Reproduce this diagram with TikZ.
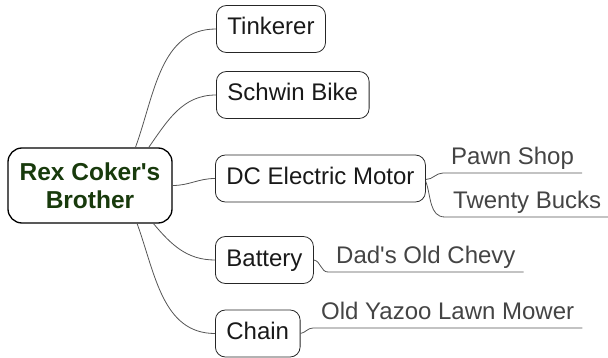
\documentclass[tikz,border=0pt]{standalone}
\usepackage{fontspec}
\setmainfont{Liberation Sans}
\usepackage{tikz}
\usetikzlibrary{positioning}
\definecolor{rootgreen}{RGB}{24,58,12}
\definecolor{linegray}{RGB}{85,85,85}
\definecolor{leafgray}{RGB}{68,68,68}

\begin{document}
\begin{tikzpicture}[x=1pt,y=-1pt,font=\fontsize{24}{27}\selectfont,
		rootnode/.style={rectangle,draw=black,line width=1.3pt,rounded corners=14pt,minimum width=164pt,minimum height=75pt,align=center,text=rootgreen,font=\fontsize{24.5}{28}\selectfont\bfseries},
		topicnode/.style={rectangle,draw=black!85,line width=0.8pt,rounded corners=10pt,inner xsep=11pt,minimum height=47pt,text height=17pt,text depth=5pt,anchor=west,text=black!90},
		leafnode/.style={rectangle,inner xsep=8pt,inner ysep=3pt,text height=17pt,text depth=5.5pt,anchor=south west,text=leafgray},
		branch/.style={draw=linegray,line width=0.8pt}]
		\useasboundingbox (0,0) rectangle (608,358);
		\node [rootnode] (r) at (90, 185.5) {Rex Coker\textquotesingle s\\Brother};
		\node [topicnode] (t) at (216, 29) {Tinkerer};
		\node [topicnode] (s) at (216, 95) {Schwin Bike};
		\node [topicnode] (m) at (215, 178.5) {DC Electric Motor};
		\node [topicnode] (b) at (215, 260) {Battery};
		\node [topicnode] (c) at (215, 333.5) {Chain};
		\node [leafnode] (p) at (443, 173) {Pawn Shop};
		\node [leafnode] (w) at (445, 217) {Twenty Bucks};
		\node [leafnode] (d) at (328, 272) {Dad\textquotesingle s Old Chevy};
		\node [leafnode] (y) at (313, 328) {Old Yazoo Lawn Mower};
		\draw[branch] (r.40) to[out=70,in=180] (t.west);
		\draw[branch] (r.33) to[out=55,in=180] (s.west);
		\draw[branch] (r.east) to[out=0,in=180] (m.west);
		\draw[branch] (r.-31) to[out=-50,in=180] (b.west);
		\draw[branch] (r.-39) to[out=-70,in=180] (c.west);
		\draw[branch] ([yshift=-1pt]m.east) to[out=0,in=180] (p.south west) -- (p.south east);
		\draw[branch] ([yshift=-3pt]m.east) to[out=-70,in=180] (w.south west) -- (w.south east);
		\draw[branch] (b.east) to[out=-10,in=180] (d.south west) -- (d.south east);
		\draw[branch] (c.east) to[out=10,in=180] (y.south west) -- (y.south east);
	\end{tikzpicture}
\end{document}
